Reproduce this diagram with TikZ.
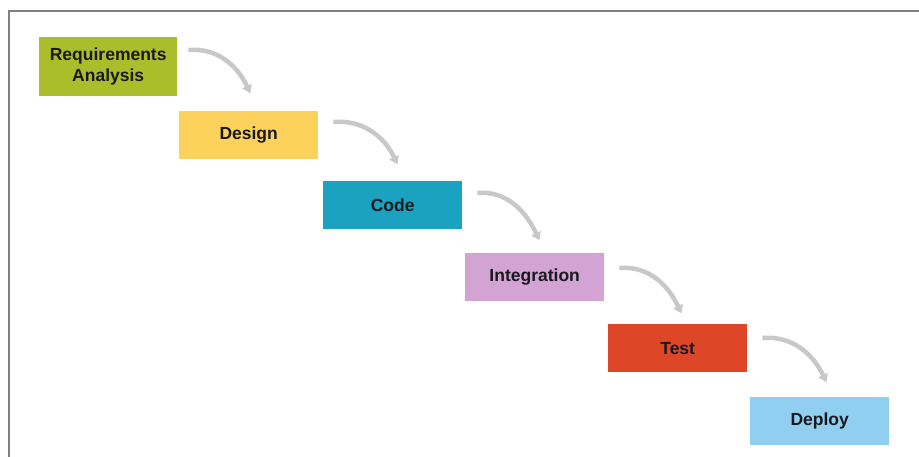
\documentclass[tikz,border=0pt]{standalone}
\usepackage{fontspec}
\setmainfont{Liberation Sans}
\usetikzlibrary{arrows.meta}
\definecolor{cReq}{RGB}{170,190,44}
\definecolor{cDes}{RGB}{253,210,92}
\definecolor{cCode}{RGB}{27,162,193}
\definecolor{cInt}{RGB}{211,163,211}
\definecolor{cTest}{RGB}{222,70,40}
\definecolor{cDep}{RGB}{144,207,240}
\definecolor{cArr}{RGB}{200,200,200}
\definecolor{cFrame}{RGB}{128,128,128}
\definecolor{cTxt}{RGB}{25,25,30}
\begin{document}
\begin{tikzpicture}[x=1pt,y=-1pt,
  phase/.style={minimum width=139pt,minimum height=48pt,inner sep=0pt,
    text=cTxt,font=\fontsize{17.5}{21}\selectfont\bfseries,align=center,anchor=north west},
  flow/.style={draw=cArr,line width=4.5pt,-{Triangle[width=10pt,length=8pt]}}]
\useasboundingbox (0,0) rectangle (919,457);
\draw[cFrame,line width=2.5pt] (9,457) -- (9,11) -- (919,11);
\node[phase,fill=cReq,minimum height=59pt,minimum width=138pt] (req) at (39,37) {Requirements\\Analysis};
\node[phase,fill=cDes] (des) at (179,111) {Design};
\node[phase,fill=cCode] (code) at (323,181) {Code};
\node[phase,fill=cInt] (int) at (465,253) {Integration};
\node[phase,fill=cTest] (test) at (608,324) {Test};
\node[phase,fill=cDep] (dep) at (750,397) {Deploy};
\draw[flow] ([shift={(11,13)}]req.north east) to[out=5,in=115] ([shift={(73,-3)}]req.south east);
\draw[flow] ([shift={(15,11)}]des.north east) to[out=5,in=115] ([shift={(79,5)}]des.south east);
\draw[flow] ([shift={(15,12)}]code.north east) to[out=5,in=115] ([shift={(77,11)}]code.south east);
\draw[flow] ([shift={(15,15)}]int.north east) to[out=5,in=115] ([shift={(77,12)}]int.south east);
\draw[flow] ([shift={(15,14)}]test.north east) to[out=5,in=115] ([shift={(79,10)}]test.south east);
\end{tikzpicture}
\end{document}
